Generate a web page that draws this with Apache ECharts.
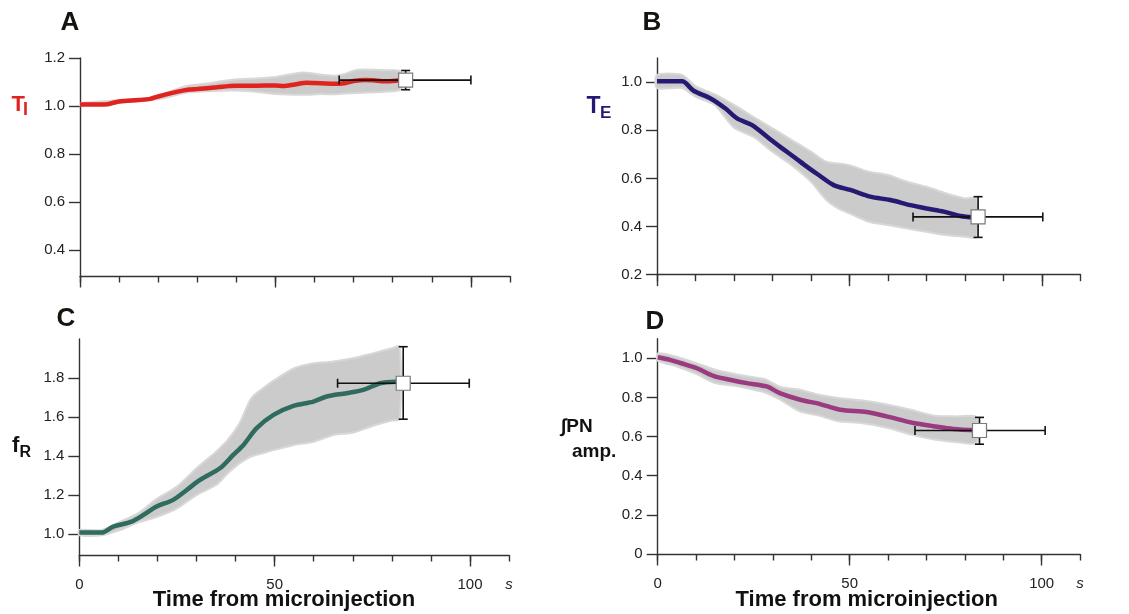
<!DOCTYPE html>
<html><head><meta charset="utf-8">
<script src="https://cdn.jsdelivr.net/npm/echarts@6/dist/echarts.min.js"></script>
<style>html,body{margin:0;padding:0;background:#fff}#c{width:1129px;height:614px}</style>
</head><body><div id="c"></div>
<script>
// ---------- DATA ----------
// Panel A: T_I
const tA = [0,5,7,10,15,18,20,25,28,30,35,38,40,45,50,52,55,58,60,65,67,70,73,75,78,80,82];
const vA = [1.007,1.007,1.008,1.019,1.025,1.03,1.04,1.06,1.069,1.071,1.078,1.083,1.085,1.085,1.086,1.083,1.09,1.097,1.096,1.093,1.094,1.104,1.108,1.107,1.103,1.104,1.108];
const bandTA = [0,18,22,27,33,39,45,50,57,62,65,68,71,78,82];
const upperA = [1.012,1.035,1.055,1.083,1.095,1.11,1.115,1.121,1.14,1.13,1.126,1.135,1.151,1.149,1.144];
const lowerA = [1.002,1.025,1.035,1.055,1.062,1.065,1.06,1.05,1.047,1.05,1.049,1.052,1.054,1.06,1.068];
const errA = [83.3, 1.108, 66.3, 100, 1.068, 1.148]; // x, y, xlo, xhi, ylo, yhi

// Panel B: T_E
const tB = [0,6.5,9.5,13.9,17.7,20.8,24.7,28.6,32,35.5,39,42,45.9,50.2,55.4,60.6,65.8,70.1,74.5,78.8,82.3];
const vB = [1.003,1.003,0.964,0.932,0.891,0.849,0.821,0.773,0.731,0.69,0.648,0.614,0.572,0.552,0.524,0.51,0.489,0.475,0.462,0.444,0.438];
const bandTB = [0,6.5,10,15,20,25,30,35,40,44,47,50,55,60,65,70,75,80,83];
const upperB = [1.03,1.03,0.983,0.949,0.905,0.856,0.808,0.759,0.711,0.669,0.662,0.655,0.628,0.614,0.586,0.565,0.538,0.517,0.517];
const lowerB = [0.975,0.975,0.939,0.905,0.81,0.773,0.711,0.655,0.586,0.51,0.475,0.455,0.42,0.406,0.392,0.378,0.365,0.358,0.355];
const errB = [83.4, 0.44, 66.5, 100.2, 0.355, 0.524];

// Panel C: f_R
const tC = [0,5.7,8.7,13.4,16.4,19.8,24,27.5,30.9,36,39.4,42,45.4,49.7,54.8,59.9,63.3,68.4,72.7,77,81.2];
const vC = [1.009,1.009,1.039,1.065,1.099,1.142,1.176,1.227,1.278,1.338,1.406,1.457,1.543,1.611,1.657,1.679,1.705,1.722,1.739,1.773,1.781];
const bandTC = [0,5.7,10,15,20,25,30,35,38,41,44,47,50,55,60,65,70,75,80,82];
const upperC = [1.022,1.022,1.06,1.107,1.184,1.244,1.338,1.423,1.483,1.568,1.696,1.747,1.79,1.85,1.875,1.884,1.901,1.926,1.952,1.96];
const lowerC = [0.995,0.995,1.019,1.06,1.09,1.133,1.201,1.252,1.312,1.363,1.398,1.415,1.432,1.457,1.474,1.508,1.52,1.554,1.582,1.589];
const errC = [82.9, 1.773, 66.1, 99.8, 1.589, 1.96];

// Panel D: PN amp.
const tD = [0,3.2,6.7,10.2,14.5,18.8,23.2,28.4,31.8,37.1,42.3,47.5,54.4,59.6,66.6,71.8,77,83.1];
const vD = [1.005,0.992,0.971,0.949,0.91,0.89,0.873,0.856,0.822,0.788,0.766,0.737,0.725,0.703,0.669,0.653,0.639,0.632];
const bandTD = [0,5,10,15,20,25,28,32,37,42,47,53,60,66,72,78,83];
const upperD = [1.025,1.008,0.975,0.941,0.92,0.903,0.893,0.853,0.839,0.814,0.797,0.785,0.763,0.737,0.707,0.703,0.7];
const lowerD = [0.988,0.958,0.92,0.873,0.859,0.839,0.825,0.788,0.729,0.707,0.678,0.669,0.644,0.61,0.585,0.571,0.568];
const errD = [83.8, 0.631, 67, 100.9, 0.561, 0.698];

// Tick labels
const xMinorTicks = [0,10,20,30,40,50,60,70,80,90,100,110];
const xMajorTicks = [0,50,100];
const xLabelValues = [0,50,100,110];
const yTicksA = [0.4,0.6,0.8,1.0,1.2];
const yTicksB = [0.2,0.4,0.6,0.8,1.0];
const yTicksC = [1.0,1.2,1.4,1.6,1.8];
const yTicksD = [0,0.2,0.4,0.6,0.8,1.0];
const xTitle = 'Time from microinjection';

// ---------- LAYOUT ----------
const panels = [
  {grid:{left:80, top:58, width:430, height:218}, ymin:0.293, ymax:1.2, yt:yTicksA, t:tA, v:vA, bt:bandTA, bu:upperA, bl:lowerA, err:errA, color:'#e0231f', xlabels:false},
  {grid:{left:657, top:58, width:423.5, height:216.7}, ymin:0.2, ymax:1.1, yt:yTicksB, t:tB, v:vB, bt:bandTB, bu:upperB, bl:lowerB, err:errB, color:'#241a74', xlabels:false},
  {grid:{left:79.3, top:338.9, width:429.8, height:216.1}, ymin:0.894, ymax:2.0, yt:yTicksC, t:tC, v:vC, bt:bandTC, bu:upperC, bl:lowerC, err:errC, color:'#2f6b5e', xlabels:true},
  {grid:{left:657.7, top:338.7, width:422.4, height:215.3}, ymin:0, ymax:1.1, yt:yTicksD, t:tD, v:vD, bt:bandTD, bu:upperD, bl:lowerD, err:errD, color:'#9a3b7f', xlabels:true}
];

const FF = 'Liberation Sans, Arial, sans-serif';
const axisColor = '#333';
const lineSt = {color: axisColor, width: 1.4};
const grids = [], xAxes = [], yAxes = [], series = [];

panels.forEach((p, i) => {
  grids.push(Object.assign({containLabel:false}, p.grid));
  xAxes.push({
    type:'value', gridIndex:i, position:'bottom', min:0, max:110, interval:10,
    axisLine:{show:true, onZero:false, lineStyle:lineSt},
    axisTick:{show:true, length:6.5, customValues:xMinorTicks, lineStyle:lineSt},
    axisLabel:{show:false}, splitLine:{show:false}
  });
  xAxes.push({
    type:'value', gridIndex:i, position:'bottom', min:0, max:110,
    axisLine:{show:false, onZero:false},
    axisTick:{show:true, length:11.5, customValues:xMajorTicks, lineStyle:lineSt},
    axisLabel:{
      show:p.xlabels, customValues:xLabelValues, margin:22,
      fontSize:15, color:'#222', fontFamily:FF,
      formatter: v => v === 110 ? '{s|s}' : String(v),
      rich:{s:{fontStyle:'italic', fontSize:15, color:'#222', fontFamily:FF}}
    },
    splitLine:{show:false}
  });
  yAxes.push({
    type:'value', gridIndex:i, position:'left', min:p.ymin, max:p.ymax,
    axisLine:{show:true, onZero:false, lineStyle:lineSt},
    axisTick:{show:true, length:11, customValues:p.yt, lineStyle:lineSt},
    axisLabel:{
      show:true, customValues:p.yt, margin:15, fontSize:15, color:'#222',
      fontFamily:FF,
      formatter: v => (Math.abs(v) < 1e-9 ? '0' : Number(v).toFixed(1))
    },
    splitLine:{show:false}
  });

  const bt = p.bt, bu = p.bu, bl = p.bl;
  series.push({
    type:'custom', xAxisIndex:2*i, yAxisIndex:i, z:1, silent:true,
    data: bt.map((t,k) => [t, bu[k], bl[k]]),
    encode:{x:0, y:[1,2]},
    renderItem: function(params, api) {
      if (params.dataIndex !== 0) return;
      const pts = [];
      for (let k = 0; k < bt.length; k++) pts.push(api.coord([bt[k], bu[k]]));
      for (let k = bt.length - 1; k >= 0; k--) pts.push(api.coord([bt[k], bl[k]]));
      return {type:'polygon', shape:{points:pts, smooth:0.25},
        style:{fill:'#cbcbcb', stroke:'#d8d8d8', lineWidth:2}};
    }
  });
  series.push({
    type:'line', xAxisIndex:2*i, yAxisIndex:i, z:2, silent:true,
    data: p.t.map((t,k) => [t, p.v[k]]),
    symbol:'none', showSymbol:false, smooth:0.3,
    lineStyle:{color:p.color, width:4.5}
  });
  series.push({
    type:'custom', xAxisIndex:2*i, yAxisIndex:i, z:3, silent:true,
    data:[p.err],
    encode:{x:[0,2,3], y:[1,4,5]},
    renderItem: function(params, api) {
      const c = api.coord([api.value(0), api.value(1)]);
      const l = api.coord([api.value(2), api.value(1)]);
      const r = api.coord([api.value(3), api.value(1)]);
      const b = api.coord([api.value(0), api.value(4)]);
      const t = api.coord([api.value(0), api.value(5)]);
      const cap = 4.5, sq = 7;
      const ls = {stroke:'#111', lineWidth:1.6};
      return {type:'group', children:[
        {type:'line', shape:{x1:l[0], y1:c[1], x2:r[0], y2:c[1]}, style:ls},
        {type:'line', shape:{x1:l[0], y1:c[1]-cap, x2:l[0], y2:c[1]+cap}, style:ls},
        {type:'line', shape:{x1:r[0], y1:c[1]-cap, x2:r[0], y2:c[1]+cap}, style:ls},
        {type:'line', shape:{x1:c[0], y1:b[1], x2:c[0], y2:t[1]}, style:ls},
        {type:'line', shape:{x1:c[0]-cap, y1:b[1], x2:c[0]+cap, y2:b[1]}, style:ls},
        {type:'line', shape:{x1:c[0]-cap, y1:t[1], x2:c[0]+cap, y2:t[1]}, style:ls},
        {type:'rect', shape:{x:c[0]-sq, y:c[1]-sq, width:2*sq, height:2*sq},
          style:{fill:'#ffffff', stroke:'#7a7a7a', lineWidth:1.2}}
      ]};
    }
  });
});

function txt(text, x, y, size, color) {
  return {
    type:'text', x:x, y:y, silent:true,
    style:{text:text, font:'bold ' + size + 'px ' + FF, fill:color,
      textAlign:'left', textVerticalAlign:'middle', align:'left', verticalAlign:'middle'}
  };
}
function ctxt(text, x, y, size, color) {
  return {type:'text', x:x, y:y, silent:true,
    style:{text:text, font:'bold ' + size + 'px ' + FF, fill:color,
      textAlign:'center', textVerticalAlign:'middle', align:'center', verticalAlign:'middle'}};
}
const letterColor = '#15140e';
const graphics = [
  ctxt('A', 70, 22.5, 26, letterColor),
  ctxt('B', 652, 22.5, 26, letterColor),
  ctxt('C', 66, 319, 26, letterColor),
  ctxt('D', 655, 322, 26, letterColor),
  txt('T', 11.5, 105, 22, '#e0231f'),
  txt('I', 23, 110.5, 18, '#e0231f'),
  txt('T', 586.5, 106.5, 23, '#241a74'),
  txt('E', 600, 113.5, 17, '#241a74'),
  txt('f', 12, 446, 22, '#111'),
  txt('R', 19.5, 452.5, 16, '#111'),
  txt('\u222BPN', 561, 426.5, 19, '#111'),
  txt('amp.', 572, 451.5, 19, '#111'),
  ctxt(xTitle, 284, 600, 22, '#111'),
  ctxt(xTitle, 866.7, 600, 22, '#111')
];

const chart = echarts.init(document.getElementById('c'), null, {renderer:'canvas'});
chart.setOption({
  animation:false,
  backgroundColor:'#ffffff',
  grid:grids, xAxis:xAxes, yAxis:yAxes, series:series,
  graphic:{elements:graphics}
});
</script></body></html>
